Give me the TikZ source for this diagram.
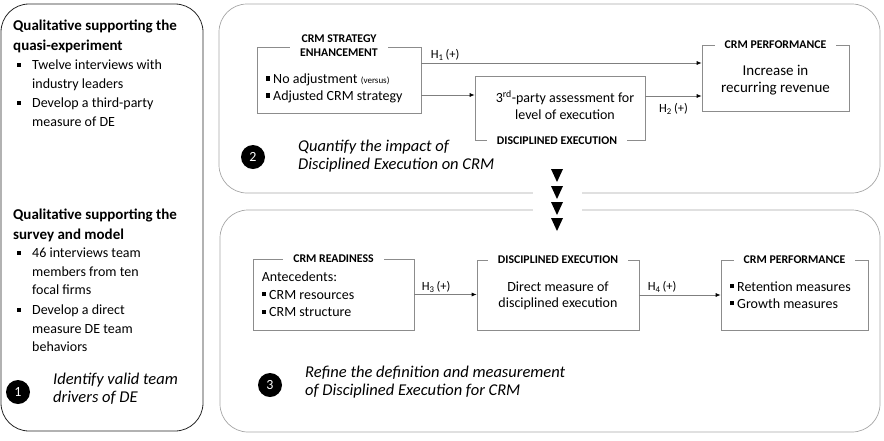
\documentclass[tikz,border=0pt]{standalone}
\usepackage{fontspec}
\setmainfont{Carlito}
\usetikzlibrary{positioning,arrows.meta}
\definecolor{panelgray}{HTML}{A6A6A6}
\definecolor{boxgray}{HTML}{8C8C8C}
\definecolor{linegray}{HTML}{7F7F7F}
\newcommand{\sqbul}{\rule[0.22em]{0.3em}{0.3em}}
\newcommand{\hyp}[1]{H\textsubscript{#1}\,(+)}

\begin{document}
\begin{tikzpicture}[x=1pt, y=-1pt,
    panel/.style={draw=panelgray, rounded corners=28pt, line width=0.7pt, inner sep=0pt},
    cbox/.style={draw=boxgray, line width=0.7pt, inner sep=0pt},
    ttl/.style={fill=white, font=\bfseries\fontsize{11.8}{14.5}\selectfont, inner xsep=10pt, inner ysep=1pt, align=center},
    txt/.style={font=\fontsize{14}{17}\selectfont, inner sep=0pt, align=left},
    ctxt/.style={font=\fontsize{14}{16.5}\selectfont, inner sep=0pt, align=center},
    lcol/.style={font=\fontsize{14}{18.5}\selectfont, inner sep=0pt, align=left, anchor=north west},
    lhead/.style={lcol, font=\bfseries\fontsize{15}{19.5}\selectfont},
    note/.style={font=\itshape\fontsize{16.5}{18}\selectfont, inner sep=0pt, align=left, anchor=north west},
    num/.style={circle, fill=black, text=white, minimum size=24pt, inner sep=0pt, font=\fontsize{14}{14}\selectfont},
    arr/.style={-{Latex[length=5pt,width=4pt,color=black]}, draw=linegray, line width=0.7pt},
    hlab/.style={font=\fontsize{12.5}{14}\selectfont, inner sep=2pt}
  ]
  \useasboundingbox (0,0) rectangle (884,440);

  % panels
  \node[panel, draw=black!85, line width=0.8pt, minimum width=202pt, minimum height=427pt] (left) at (102,217.5) {};
  \node[panel, minimum width=661pt, minimum height=189pt] (upper) at (549.5,98.5) {};
  \node[panel, minimum width=660pt, minimum height=222pt] (lower) at (550,321) {};

  % left column
  \node[lhead] (qa) at (13,20) {Qualitative supporting the\\quasi-experiment};
  \node[lcol] (qa1) at (32,60) {\llap{\sqbul\hspace{11pt}}Twelve interviews with\\industry leaders};
  \node[lcol] (qa2) at (32,98) {\llap{\sqbul\hspace{11pt}}Develop a third-party\\measure of DE};
  \node[lhead] (qb) at (13,209) {Qualitative supporting the\\survey and model};
  \node[lcol] (qb1) at (32,248) {\llap{\sqbul\hspace{11pt}}46 interviews team\\members from ten\\focal firms};
  \node[lcol] (qb2) at (32,305) {\llap{\sqbul\hspace{11pt}}Develop a direct\\measure DE team\\behaviors};
  \node[num] (n1) at (18,392) {1};
  \node[note] (n1txt) at (53,373) {Identify valid team\\drivers of DE};

  % upper study
  \node[cbox, minimum width=164pt, minimum height=66pt] (strat) at (339,80) {};
  \node[ttl] (stratT) at ([yshift=1pt]strat.north) {CRM STRATEGY\\ENHANCEMENT};
  \node[txt, anchor=west] (stratX) at ([xshift=9pt, yshift=-8.5pt]strat.west)
    {\sqbul\ No adjustment {\fontsize{9}{10}\selectfont (versus)}\\\sqbul\ Adjusted CRM strategy};

  \node[cbox, minimum width=170pt, minimum height=64pt] (thirdp) at (560,108) {};
  \node[ttl] (thirdpT) at ([xshift=-3pt]thirdp.south) {DISCIPLINED EXECUTION};
  \node[ctxt] (thirdpX) at ([xshift=5pt, yshift=3pt]thirdp.center) {3\textsuperscript{rd}-party assessment for\\level of execution};

  \node[cbox, minimum width=147pt, minimum height=66pt] (perfA) at (775.5,78) {};
  \node[ttl] (perfAT) at (perfA.north) {CRM PERFORMANCE};
  \node[ctxt, font=\fontsize{15}{17}\selectfont] (perfAX) at ([yshift=-2.5pt]perfA.center) {Increase in\\recurring revenue};

  \draw[arr] ([yshift=17pt]strat.east) -- node[hlab, pos=0.085, above] {\hyp{1}} ([yshift=17pt]strat.east -| perfA.west);
  \draw[arr] ([yshift=-15pt]strat.east) -- ([yshift=-15pt]strat.east -| thirdp.west);
  \draw[arr] ([yshift=12pt]thirdp.east) -- node[hlab, below=5pt] {\hyp{2}} ([yshift=12pt]thirdp.east -| perfA.west);

  \node[num] (n2) at (253,157) {2};
  \node[note] (n2txt) at (298,140) {Quantify the impact of\\Disciplined Execution on CRM};

  % link between studies
  \node[fill=white, minimum width=49pt, minimum height=24pt, inner sep=0pt] (gap) at (557.5,201) {};
  \foreach \ty in {175,192,208,224}
    \fill (551,\ty-6) -- (563,\ty-6) -- (557,\ty+7) -- cycle;

  % lower study
  \node[cbox, minimum width=161pt, minimum height=71pt] (ready) at (333.5,294.5) {};
  \node[ttl] (readyT) at (ready.north) {CRM READINESS};
  \node[txt, anchor=west, font=\fontsize{14}{17.5}\selectfont] (readyX) at ([xshift=9pt]ready.west)
    {Antecedents:\\\sqbul\ CRM resources\\\sqbul\ CRM structure};

  \node[cbox, minimum width=162pt, minimum height=70pt] (disc) at (558,295) {};
  \node[ttl] (discT) at (disc.north) {DISCIPLINED EXECUTION};
  \node[ctxt] (discX) at ([yshift=-1pt]disc.center) {Direct measure of\\disciplined execution};

  \node[cbox, minimum width=147pt, minimum height=70pt] (perfB) at (794.5,295) {};
  \node[ttl] (perfBT) at (perfB.north) {CRM PERFORMANCE};
  \node[txt, anchor=west] (perfBX) at ([xshift=9pt]perfB.west) {\sqbul\ Retention measures\\\sqbul\ Growth measures};

  \draw[arr] (ready.east) -- node[hlab, pos=0.35, above] {\hyp{3}} (ready.east -| disc.west);
  \draw[arr] (disc.east) -- node[hlab, pos=0.28, above] {\hyp{4}} (disc.east -| perfB.west);

  \node[num] (n3) at (270,385) {3};
  \node[note] (n3txt) at (305,366) {Refine the definition and measurement\\of Disciplined Execution for CRM};
\end{tikzpicture}
\end{document}
